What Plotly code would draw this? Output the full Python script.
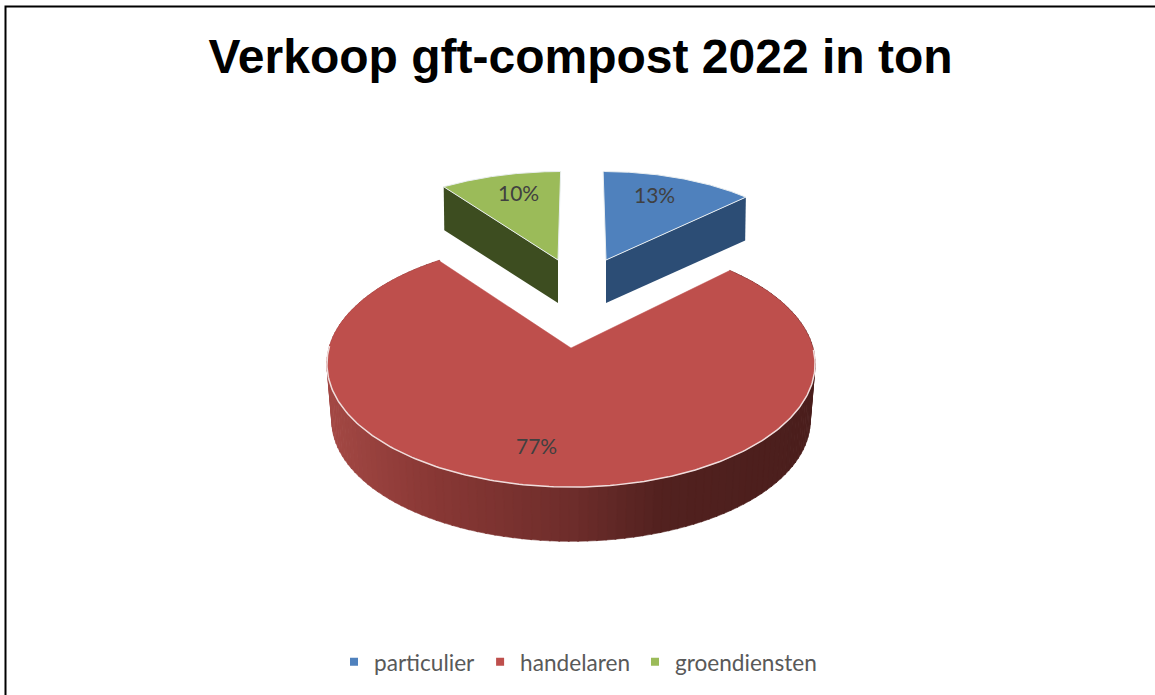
import math
import plotly.graph_objects as go

# ---- data ----
categories = ["particulier", "handelaren", "groendiensten"]
shares = [13, 77, 10]
title_text = "Verkoop gft-compost 2022 in ton"

# ---- style ----
top_colors = ["#4f81bd", "#be4f4c", "#9bbb59"]
wall_colors = ["#2c4d75", None, "#3d4d20"]
text_color = "#404040"
W, H = 1155, 695
PERSP = 0.13
VX = 581
# slice placement: apex x, apex y, radius x, radius y, depth, bottom scale, perspective centre x, rotation
GEOM = [
    dict(cx=606, cy=260, R=212, Hh=100, d=43, s=0.995, vx=VX, rot=0),
    dict(cx=571, cy=348, R=242, Hh=121, d=57, s=0.98, vx=571, rot=-1.1),
    dict(cx=558, cy=260, R=219, Hh=100, d=43, s=0.995, vx=VX, rot=0),
]
LABEL_XY = [(654, 194), (536, 445), (518, 192)]
RED_RAMP = [(330, (163, 72, 68)), (430, (137, 56, 53)), (570, (110, 45, 43)),
            (660, (82, 33, 31)), (815, (74, 30, 28))]


def project(g, theta_deg, r=1.0, bottom=False):
    t = math.radians(theta_deg + g["rot"])
    s = g["s"] if bottom else 1.0
    w = 1 + PERSP * r * math.cos(t)
    x = g["vx"] + (g["cx"] - g["vx"] + s * g["R"] * r * math.sin(t)) / w
    y = g["cy"] - s * g["Hh"] * r * math.cos(t) / w + (g["d"] if bottom else 0)
    return x, y


def ramp(x):
    for (x0, c0), (x1, c1) in zip(RED_RAMP, RED_RAMP[1:]):
        if x <= x1:
            f = max(0, (x - x0) / (x1 - x0))
            return "rgb(%d,%d,%d)" % tuple(round(a + (b - a) * f) for a, b in zip(c0, c1))
    return "rgb(%d,%d,%d)" % RED_RAMP[-1][1]


def poly(pts, fill, line=None, width=0):
    return go.Scatter(
        x=[p[0] for p in pts] + [pts[0][0]], y=[p[1] for p in pts] + [pts[0][1]],
        mode="lines", fill="toself", fillcolor=fill,
        line=dict(color=line or fill, width=width),
        hoverinfo="skip", showlegend=False)


# cumulative angles from the shares
total = sum(shares)
angles = []
acc = 0
for v in shares:
    angles.append((acc / total * 360, (acc + v) / total * 360))
    acc += v

fig = go.Figure()


def arc(a0, a1, g, bottom=False, n=120):
    return [project(g, a0 + (a1 - a0) * i / n, bottom=bottom) for i in range(n + 1)]


# handelaren: outer wall then top
g = GEOM[1]
a0, a1 = angles[1]
N = 140
for i in range(N):
    t0 = a0 + (a1 - a0) * i / N
    t1 = a0 + (a1 - a0) * (i + 1) / N + 0.3
    strip = [project(g, t0), project(g, t1), project(g, t1, bottom=True), project(g, t0, bottom=True)]
    c = ramp(sum(p[0] for p in strip) / 4)
    fig.add_trace(poly(strip, c, c, 0.6))
fig.add_trace(poly([(g["cx"], g["cy"])] + arc(a0, a1, g, n=240), top_colors[1], top_colors[1], 0.5))
rim_pts = arc(92, 272, g, n=200)
fig.add_trace(go.Scatter(
    x=[p[0] for p in rim_pts], y=[p[1] for p in rim_pts],
    mode="lines", line=dict(color="#f0dedd", width=1.5), hoverinfo="skip", showlegend=False))

# particulier and groendiensten: cut wall then top
for idx, cut in ((0, 1), (2, 0)):
    g = GEOM[idx]
    a0, a1 = angles[idx]
    rim = a1 if cut else a0
    ax, ay = g["cx"], g["cy"]
    px, py = project(g, rim)
    bx, by = project(g, rim, bottom=True)
    fig.add_trace(poly([(ax, ay), (px, py), (bx, by), (ax, ay + g["d"])], wall_colors[idx]))
    fig.add_trace(poly([(ax, ay)] + arc(a0, a1, g), top_colors[idx], "#e9eef0", 1))

# legend entries
for name, col in zip(categories, top_colors):
    fig.add_trace(go.Scatter(x=[None], y=[None], mode="markers", name=name,
                             marker=dict(symbol="square", size=8, color=col)))

# percentage labels
annotations = [
    dict(x=x, y=y, xref="x", yref="y", text=f"{v}%", showarrow=False,
         font=dict(family="Lato", size=21, color=text_color))
    for v, (x, y) in zip(shares, LABEL_XY)
]

fig.update_layout(
    width=W, height=H, autosize=False,
    margin=dict(l=0, r=0, t=0, b=0),
    paper_bgcolor="white", plot_bgcolor="white",
    xaxis=dict(range=[0, W], visible=False, fixedrange=True),
    yaxis=dict(range=[H, 0], visible=False, fixedrange=True),
    title=dict(text=f"<b>{title_text}</b>", x=580.5 / W, xanchor="center",
               y=1 - 56 / H, yanchor="middle",
               font=dict(family="Liberation Sans", size=48, color="black")),
    legend=dict(orientation="h", x=578 / W, xanchor="center", y=1 - 662 / H, yanchor="middle",
                font=dict(family="Lato", size=22.6, color="#595959"),
                itemwidth=30, bgcolor="rgba(0,0,0,0)"),
    annotations=annotations,
    shapes=[dict(type="path", path=f"M 5.5 {H} L 5.5 6.5 L {W} 6.5", xref="x", yref="y",
                 line=dict(color="black", width=2))],
)
fig.write_html("out.html", config={"displayModeBar": False},
               post_script="document.body.style.margin='0';document.body.style.overflow='hidden';")
